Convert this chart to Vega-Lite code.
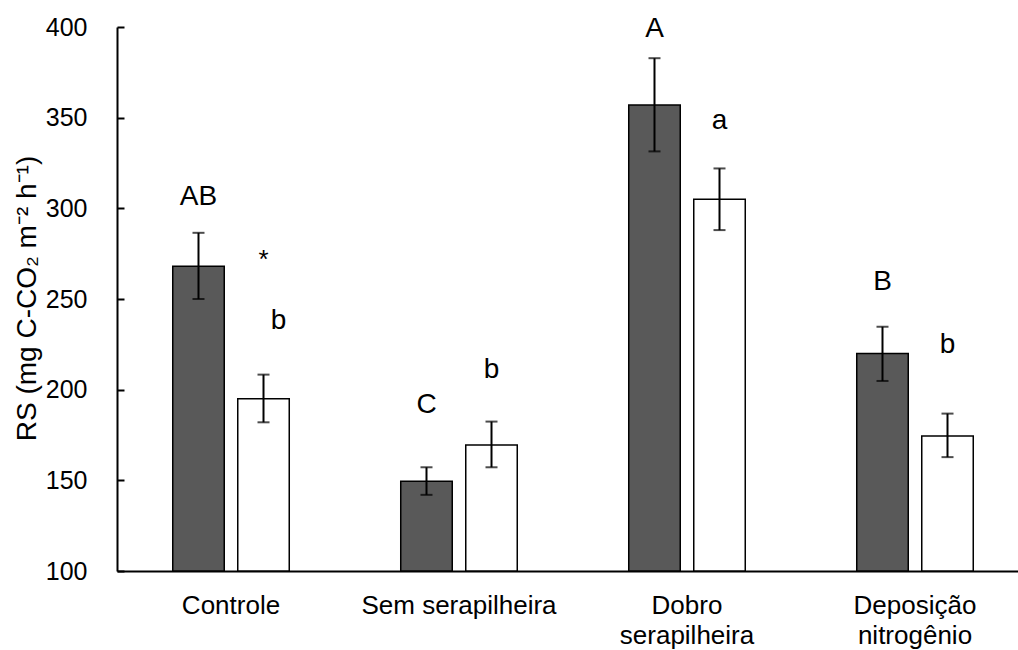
{
  "$schema": "https://vega.github.io/schema/vega-lite/v6.json",
  "width": 901,
  "height": 544,
  "autosize": {"type": "none"},
  "padding": {"left": 117, "top": 27, "right": 0, "bottom": 79},
  "background": "white",
  "config": {"view": {"stroke": null}, "font": "Liberation Sans"},
  "datasets": {
    "bars": [
      {"group": "Controle", "series": "A", "value": 268, "lo": 250, "hi": 286.5},
      {"group": "Controle", "series": "B", "value": 195, "lo": 182, "hi": 208.3},
      {"group": "Sem serapilheira", "series": "A", "value": 149.5, "lo": 142, "hi": 157.2},
      {"group": "Sem serapilheira", "series": "B", "value": 169.5, "lo": 157.2, "hi": 182.4},
      {"group": "Dobro serapilheira", "series": "A", "value": 357, "lo": 331.4, "hi": 382.8},
      {"group": "Dobro serapilheira", "series": "B", "value": 305, "lo": 288, "hi": 322},
      {"group": "Deposição nitrogênio", "series": "A", "value": 220, "lo": 204.8, "hi": 234.7},
      {"group": "Deposição nitrogênio", "series": "B", "value": 174.5, "lo": 162.8, "hi": 186.8}
    ],
    "letters": [
      {"group": "Controle", "series": "A", "label": "AB", "pos": 306},
      {"group": "Sem serapilheira", "series": "A", "label": "C", "pos": 191.5},
      {"group": "Sem serapilheira", "series": "B", "label": "b", "pos": 211},
      {"group": "Dobro serapilheira", "series": "A", "label": "A", "pos": 399},
      {"group": "Dobro serapilheira", "series": "B", "label": "a", "pos": 348},
      {"group": "Deposição nitrogênio", "series": "A", "label": "B", "pos": 259.5},
      {"group": "Deposição nitrogênio", "series": "B", "label": "b", "pos": 224.5}
    ],
    "shifted": [
      {"group": "Controle", "series": "B", "label": "b", "pos": 238}
    ],
    "star": [
      {"group": "Controle", "series": "B", "label": "*", "pos": 271.5}
    ]
  },
  "encoding": {
    "x": {
      "field": "group",
      "type": "nominal",
      "sort": ["Controle", "Sem serapilheira", "Dobro serapilheira", "Deposição nitrogênio"],
      "scale": {"range": [0, 912], "paddingInner": 0.489, "paddingOuter": 0.2445},
      "axis": {
        "title": null,
        "labelAngle": 0,
        "ticks": false,
        "domainColor": "black",
        "domainWidth": 2,
        "labelColor": "black",
        "labelFontSize": 26,
        "labelLimit": 0,
        "labelPadding": 21,
        "labelBaseline": "top",
        "labelLineHeight": 30,
        "labelExpr": "datum.label == 'Dobro serapilheira' ? ['Dobro', 'serapilheira'] : datum.label == 'Deposição nitrogênio' ? ['Deposição', 'nitrogênio'] : datum.label"
      }
    },
    "xOffset": {
      "field": "series",
      "type": "nominal",
      "sort": ["A", "B"],
      "scale": {"paddingInner": 0.2077, "paddingOuter": 0}
    }
  },
  "layer": [
    {
      "data": {"name": "bars"},
      "mark": {"type": "bar", "stroke": "black", "strokeWidth": 1.5},
      "encoding": {
        "y": {
          "field": "value",
          "type": "quantitative",
          "scale": {"domain": [100, 400], "zero": false, "nice": false},
          "axis": {
            "values": [100, 150, 200, 250, 300, 350, 400],
            "grid": false,
            "domainColor": "black",
            "domainWidth": 2,
            "tickColor": "black",
            "tickWidth": 2,
            "tickSize": -7,
            "labelColor": "black",
            "labelFontSize": 25,
            "labelPadding": 37,
            "title": "RS (mg C-CO₂ m⁻² h⁻¹)",
            "titleFontSize": 28,
            "titleFontWeight": "normal",
            "titleColor": "black",
            "titleX": -76,
            "titleY": 271
          }
        },
        "y2": {"datum": 100},
        "fill": {
          "field": "series",
          "type": "nominal",
          "scale": {"domain": ["A", "B"], "range": ["#595959", "#ffffff"]},
          "legend": null
        }
      }
    },
    {
      "data": {"name": "bars"},
      "mark": {"type": "rule", "color": "black", "strokeWidth": 2},
      "encoding": {
        "y": {"field": "lo", "type": "quantitative"},
        "y2": {"field": "hi"}
      }
    },
    {
      "data": {"name": "bars"},
      "mark": {"type": "tick", "color": "black", "size": 12, "thickness": 2},
      "encoding": {"y": {"field": "lo", "type": "quantitative"}}
    },
    {
      "data": {"name": "bars"},
      "mark": {"type": "tick", "color": "black", "size": 12, "thickness": 2},
      "encoding": {"y": {"field": "hi", "type": "quantitative"}}
    },
    {
      "data": {"name": "letters"},
      "mark": {"type": "text", "fontSize": 28, "color": "black", "baseline": "middle"},
      "encoding": {
        "y": {"field": "pos", "type": "quantitative"},
        "text": {"field": "label"}
      }
    },
    {
      "data": {"name": "shifted"},
      "mark": {"type": "text", "fontSize": 28, "color": "black", "baseline": "middle", "dx": 15},
      "encoding": {
        "y": {"field": "pos", "type": "quantitative"},
        "text": {"field": "label"}
      }
    },
    {
      "data": {"name": "star"},
      "mark": {"type": "text", "fontSize": 26, "color": "black", "baseline": "middle"},
      "encoding": {
        "y": {"field": "pos", "type": "quantitative"},
        "text": {"field": "label"}
      }
    }
  ]
}
